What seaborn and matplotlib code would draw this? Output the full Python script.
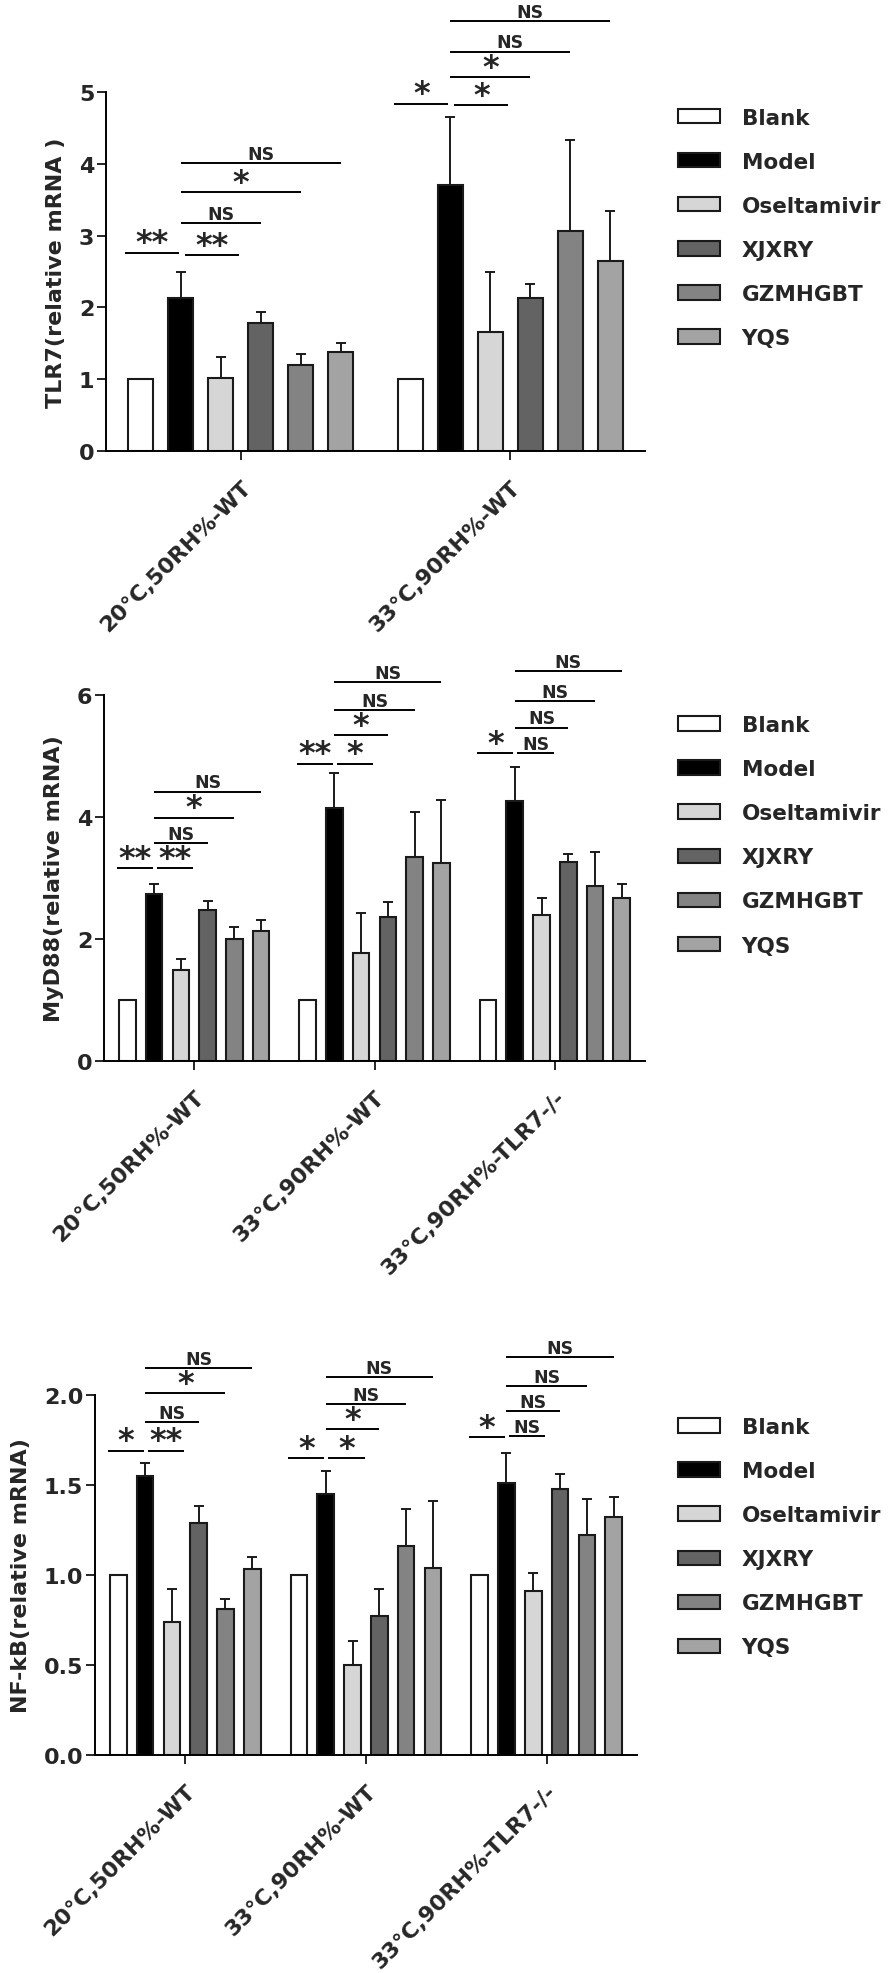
import pandas as pd
import matplotlib
matplotlib.use('Agg')
import matplotlib.pyplot as plt
import seaborn as sns

# Treatment groups and their bar colours
treatments = ['Blank', 'Model', 'Oseltamivir', 'XJXRY', 'GZMHGBT', 'YQS']
colors = ['#ffffff', '#000000', '#d6d6d6', '#636363', '#838383', '#a3a3a3']

conds_tlr7 = ['20°C,50RH%-WT', '33°C,90RH%-WT']
conds = ['20°C,50RH%-WT', '33°C,90RH%-WT', '33°C,90RH%-TLR7-/-']

# Means and SD (upper error only), one row per condition
tlr7_mean = [[1.0, 2.13, 1.01, 1.78, 1.19, 1.38],
             [1.0, 3.71, 1.66, 2.13, 3.07, 2.65]]
tlr7_sd = [[0, 0.36, 0.29, 0.15, 0.16, 0.12],
           [0, 0.95, 0.84, 0.20, 1.26, 0.69]]

myd88_mean = [[1.0, 2.73, 1.49, 2.47, 1.99, 2.12],
              [1.0, 4.14, 1.76, 2.36, 3.33, 3.24],
              [1.0, 4.25, 2.38, 3.26, 2.86, 2.67]]
myd88_sd = [[0, 0.17, 0.18, 0.15, 0.20, 0.18],
            [0, 0.57, 0.66, 0.24, 0.75, 1.04],
            [0, 0.57, 0.29, 0.12, 0.56, 0.22]]

nfkb_mean = [[1.0, 1.55, 0.74, 1.29, 0.81, 1.03],
             [1.0, 1.45, 0.50, 0.77, 1.16, 1.04],
             [1.0, 1.51, 0.91, 1.48, 1.22, 1.32]]
nfkb_sd = [[0, 0.07, 0.18, 0.095, 0.055, 0.07],
           [0, 0.13, 0.13, 0.15, 0.205, 0.37],
           [0, 0.17, 0.10, 0.08, 0.20, 0.115]]

# Significance brackets: (condition, bar a, bar b, height, label)
tlr7_sig = [(0, 0, 1, 2.76, '**'), (0, 1, 2, 2.73, '**'), (0, 1, 3, 3.18, 'NS'),
            (0, 1, 4, 3.61, '*'), (0, 1, 5, 4.01, 'NS'),
            (1, 0, 1, 4.84, '*'), (1, 1, 2, 4.82, '*'), (1, 1, 3, 5.21, '*'),
            (1, 1, 4, 5.57, 'NS'), (1, 1, 5, 5.99, 'NS')]
myd88_sig = [(0, 0, 1, 3.15, '**'), (0, 1, 2, 3.15, '**'), (0, 1, 3, 3.57, 'NS'),
             (0, 1, 4, 3.98, '*'), (0, 1, 5, 4.41, 'NS'),
             (1, 0, 1, 4.87, '**'), (1, 1, 2, 4.87, '*'), (1, 1, 3, 5.34, '*'),
             (1, 1, 4, 5.75, 'NS'), (1, 1, 5, 6.20, 'NS'),
             (2, 0, 1, 5.04, '*'), (2, 1, 2, 5.04, 'NS'), (2, 1, 3, 5.46, 'NS'),
             (2, 1, 4, 5.90, 'NS'), (2, 1, 5, 6.38, 'NS')]
nfkb_sig = [(0, 0, 1, 1.69, '*'), (0, 1, 2, 1.69, '**'), (0, 1, 3, 1.85, 'NS'),
            (0, 1, 4, 2.01, '*'), (0, 1, 5, 2.15, 'NS'),
            (1, 0, 1, 1.65, '*'), (1, 1, 2, 1.65, '*'), (1, 1, 3, 1.81, '*'),
            (1, 1, 4, 1.95, 'NS'), (1, 1, 5, 2.10, 'NS'),
            (2, 0, 1, 1.765, '*'), (2, 1, 2, 1.77, 'NS'), (2, 1, 3, 1.91, 'NS'),
            (2, 1, 4, 2.05, 'NS'), (2, 1, 5, 2.21, 'NS')]

sns.set_style('ticks')
plt.rcParams['font.family'] = ['DejaVu Sans']
plt.rcParams['font.weight'] = 'bold'
plt.rcParams['axes.labelweight'] = 'bold'

EDGE = '#1a1a1a'


def long_df(cond_names, means, sds):
    rows = []
    for i, c in enumerate(cond_names):
        for k, t in enumerate(treatments):
            rows.append({'cond': c, 'treat': t, 'value': means[i][k], 'sd': sds[i][k]})
    return pd.DataFrame(rows)


def panel(fig, rect, cond_names, means, sds, sig, ylabel, yticks, ylim, fmt, leg_xy):
    ax = fig.add_axes(rect)
    df = long_df(cond_names, means, sds)
    sns.barplot(data=df, x='cond', y='value', hue='treat', hue_order=treatments,
                palette=colors, width=0.89, gap=0.38, errorbar=None,
                edgecolor=EDGE, linewidth=1.5, saturation=1, ax=ax)

    # bar centres per treatment / condition, read back from the drawn bars
    bar_conts = list(ax.containers)
    xs = []
    for k, cont in enumerate(bar_conts):
        row = []
        for i, bar in enumerate(cont):
            xc = bar.get_x() + bar.get_width() / 2
            row.append(xc)
            sd = sds[i][k]
            if sd > 0:
                ax.errorbar(xc, bar.get_height(), yerr=[[0], [sd]], fmt='none',
                            ecolor=EDGE, elinewidth=1.4, capsize=3.5, capthick=1.4,
                            zorder=1)
        xs.append(row)
    p = xs[1][0] - xs[0][0]

    for c, a, b, y, lab in sig:
        if (a, b) == (0, 1):
            x0, x1 = xs[0][c] - 0.4 * p, xs[1][c] - 0.05 * p
        elif (a, b) == (1, 2):
            x0, x1 = xs[1][c] + 0.1 * p, xs[2][c] + 0.45 * p
        else:
            x0, x1 = xs[a][c], xs[b][c]
        ax.plot([x0, x1], [y, y], color='black', lw=1.4, clip_on=False,
                solid_capstyle='butt')
        if lab == 'NS':
            ax.annotate(lab, ((x0 + x1) / 2, y), xytext=(0, 3), textcoords='offset points',
                        ha='center', va='baseline', fontsize=12.5, fontweight='bold',
                        annotation_clip=False)
        else:
            ax.annotate(lab, ((x0 + x1) / 2, y), xytext=(0, 1), textcoords='offset points',
                        ha='center', va='baseline', fontsize=23, fontweight='bold',
                        annotation_clip=False)

    ax.set_xlim(-0.5, len(cond_names) - 0.5)
    ax.set_ylim(*ylim)
    ax.set_yticks(yticks)
    ax.set_yticklabels([fmt.format(v) for v in yticks], fontsize=16, fontweight='bold')
    ax.set_xticks(range(len(cond_names)))
    ax.set_xticklabels(cond_names, rotation=45, ha='right', va='top',
                       rotation_mode='anchor', fontsize=16, fontweight='bold')
    ax.tick_params(axis='both', width=1.4, length=6.5, pad=2)
    ax.tick_params(axis='x', pad=12)
    ax.set_xlabel('')
    ax.set_ylabel(ylabel, fontsize=16, fontweight='bold', labelpad=9)
    for s in ['left', 'bottom']:
        ax.spines[s].set_linewidth(1.4)
        ax.spines[s].set_color('black')
    sns.despine(ax=ax)

    sns.move_legend(ax, 'upper left', bbox_to_anchor=leg_xy, bbox_transform=fig.transFigure,
                    title=None, frameon=False, fontsize=15.5, handlelength=1.95,
                    handleheight=0.65, handletextpad=1.0, labelspacing=1.12,
                    borderpad=0, borderaxespad=0)
    for t in ax.get_legend().get_texts():
        t.set_fontweight('bold')
    return ax


fig = plt.figure(figsize=(8.9, 19.74), dpi=100)

panel(fig, [0.1191, 0.7712, 0.6056, 0.1815], conds_tlr7, tlr7_mean, tlr7_sd, tlr7_sig,
      'TLR7(relative mRNA )', [0, 1, 2, 3, 4, 5], (0, 5), '{:g}', (0.762, 0.9450))
panel(fig, [0.1169, 0.4622, 0.6079, 0.1854], conds, myd88_mean, myd88_sd, myd88_sig,
      'MyD88(relative mRNA)', [0, 2, 4, 6], (0, 6), '{:g}', (0.762, 0.6373))
panel(fig, [0.1067, 0.1106, 0.6090, 0.1822], conds, nfkb_mean, nfkb_sd, nfkb_sig,
      'NF-kB(relative mRNA)', [0, 0.5, 1.0, 1.5, 2.0], (0, 2), '{:.1f}', (0.762, 0.2817))

fig.savefig('out.png', dpi=100, facecolor='white')
